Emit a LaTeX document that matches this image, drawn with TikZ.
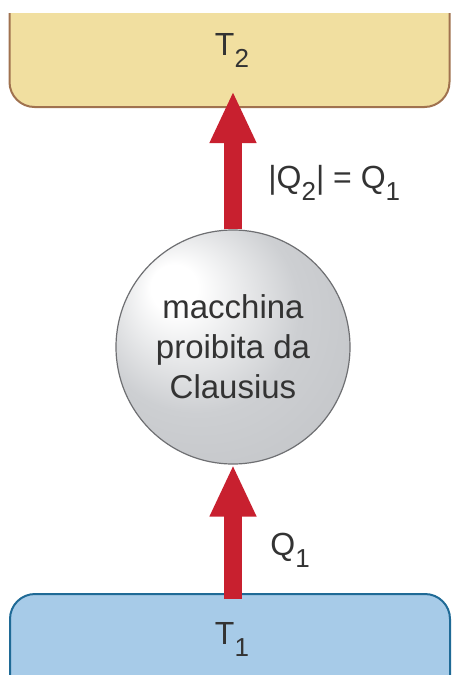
\documentclass[tikz,border=0pt]{standalone}
\usepackage{fontspec}
\setmainfont{Liberation Sans}
\usepackage{xcolor}
\usepackage{tikz}
\usetikzlibrary{arrows.meta}
\usetikzlibrary{calc}
\definecolor{hotfill}{HTML}{F1DFA0}
\definecolor{hotline}{HTML}{A0724F}
\definecolor{coldfill}{HTML}{A7CBE8}
\definecolor{coldline}{HTML}{1F6A96}
\definecolor{heatred}{HTML}{C8202F}
\definecolor{txt}{HTML}{333333}
\definecolor{ballmid}{HTML}{CDCFD2}
\definecolor{balledge}{HTML}{8F9195}
\definecolor{ballline}{HTML}{6E6F72}
\pgfdeclareradialshading{engineball}{\pgfpoint{-14bp}{14bp}}{color(0bp)=(white); color(5bp)=(white); color(22bp)=(ballmid); color(40bp)=(ballmid!80!balledge); color(50bp)=(balledge)}
\newcommand{\lowsub}[1]{\raisebox{-0.4em}{\fontsize{13}{13}\selectfont #1}}
\tikzstyle{res} = [rectangle, draw, line width=1pt, rounded corners=12.5pt, minimum width=220pt, inner sep=0pt]
\tikzstyle{hot} = [res, fill=hotfill, draw=hotline, minimum height=60pt]
\tikzstyle{cold} = [res, fill=coldfill, draw=coldline, minimum height=66pt]
\tikzstyle{engine} = [circle, draw=ballline, line width=0.6pt, shading=engineball, minimum size=117pt, inner sep=0pt, align=center, font=\fontsize{16.5}{20}\selectfont, text=txt]
\tikzstyle{heat} = [draw=heatred, line width=8.75pt, -{Triangle[length=26pt,width=21.5pt]}]
\tikzstyle{lbl} = [inner sep=0pt, text=txt, font=\fontsize{16}{19}\selectfont]

\begin{document}
\begin{tikzpicture}[x=0.5pt, y=-0.5pt]
	\useasboundingbox (0,0) rectangle (451,675);
	% reservoirs
	\begin{scope}
		\clip (0,13) rectangle (451,675);
		\node[hot] (hotres) at (229.5,47) {};
		\node[cold] (coldres) at (230,660) {};
	\end{scope}
	% engine
	\node[engine] (eng) at (233,347) {macchina\\proibita da\\Clausius};
	\draw[heat] (eng.north) -- ([yshift=8.5pt]eng |- hotres.south);
	\draw[heat] ([yshift=-3pt]eng |- coldres.north) -- (eng.south);
	% labels
	\node[lbl, anchor=base] (t2) at (232,55) {T\lowsub{2}};
	\node[lbl, anchor=base] (t1) at (232,644) {T\lowsub{1}};
	\node[lbl, anchor=base west] (q2) at (268,188) {|Q\lowsub{2}| = Q\lowsub{1}};
	\node[lbl, anchor=base west] (q1) at (270,555) {Q\lowsub{1}};
\end{tikzpicture}
\end{document}
